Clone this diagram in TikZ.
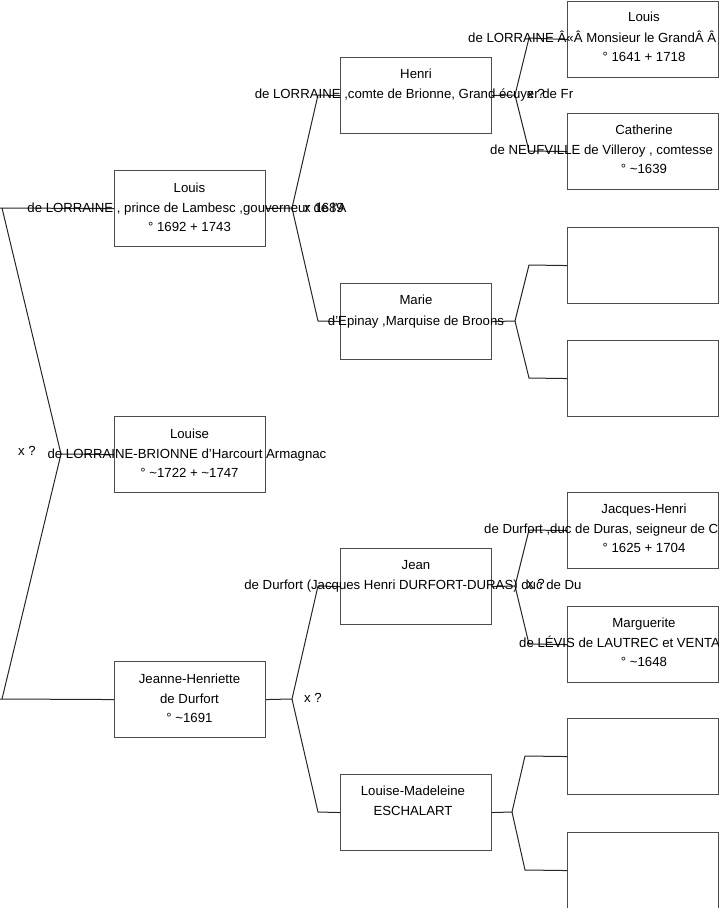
\documentclass[tikz,border=0pt]{standalone}
\usepackage{fontspec}
\setmainfont{Liberation Sans}
\newcommand{\tl}{\textasciitilde}
\begin{document}
\begin{tikzpicture}[x=1pt,y=-1pt,
  pbox/.style={draw=black!70,line width=1.1pt,minimum width=151pt,minimum height=76pt,inner sep=0pt,anchor=north west},
  ln/.style={font=\fontsize{13.2pt}{20pt}\selectfont,inner sep=0pt,anchor=base},
  lw/.style={font=\fontsize{13.2pt}{20pt}\selectfont,inner sep=0pt,anchor=base west},
  conn/.style={draw=black!85,line width=1pt}]
\useasboundingbox (0,0) rectangle (719,908);
% boxes
\node[pbox] (g1a) at (114,170) {};
\node[pbox] (g1b) at (114,416) {};
\node[pbox] (g1c) at (114,661) {};
\node[pbox] (g2a) at (340,57) {};
\node[pbox] (g2b) at (340,283) {};
\node[pbox] (g2c) at (340,548) {};
\node[pbox] (g2d) at (340,774) {};
\node[pbox] (g3a) at (567,1) {};
\node[pbox] (g3b) at (567,113) {};
\node[pbox] (g3c) at (567,227) {};
\node[pbox] (g3d) at (567,340) {};
\node[pbox] (g3e) at (567,492) {};
\node[pbox] (g3f) at (567,606) {};
\node[pbox] (g3g) at (567,718) {};
\node[pbox] (g3h) at (567,832) {};
% connectors
\coordinate (lv) at (61,454);
\coordinate (lu) at (2,208);
\coordinate (ld) at (2,699);
\coordinate (lu0) at (0,208);
\coordinate (ld0) at (0,699);
\draw[conn] (g1b.west) -- (lv) -- (lu);
\draw[conn] (lv) -- (ld);
\draw[conn] (lu0) -- (g1a.west);
\draw[conn] (ld0) -- (g1c.west);
\coordinate (v1) at (292,208);
\coordinate (v1u) at (318,95);
\coordinate (v1d) at (318,321);
\draw[conn] (g1a.east) -- (v1) -- (v1u) -- (g2a.west);
\draw[conn] (v1) -- (v1d) -- (g2b.west);
\coordinate (v2) at (292,699);
\coordinate (v2u) at (318,586);
\coordinate (v2d) at (318,812);
\draw[conn] (g1c.east) -- (v2) -- (v2u) -- (g2c.west);
\draw[conn] (v2) -- (v2d) -- (g2d.west);
\coordinate (v3) at (515,95);
\coordinate (v3u) at (529,38);
\coordinate (v3d) at (529,151);
\draw[conn] (g2a.east) -- (v3) -- (v3u) -- (g3a.west);
\draw[conn] (v3) -- (v3d) -- (g3b.west);
\coordinate (v4) at (515,321);
\coordinate (v4u) at (529,265);
\coordinate (v4d) at (529,378);
\draw[conn] (g2b.east) -- (v4) -- (v4u) -- (g3c.west);
\draw[conn] (v4) -- (v4d) -- (g3d.west);
\coordinate (v5) at (515,586);
\coordinate (v5u) at (529,530);
\coordinate (v5d) at (529,644);
\draw[conn] (g2c.east) -- (v5) -- (v5u) -- (g3e.west);
\draw[conn] (v5) -- (v5d) -- (g3f.west);
\coordinate (v6) at (512,812);
\coordinate (v6u) at (525,756);
\coordinate (v6d) at (525,870);
\draw[conn] (g2d.east) -- (v6) -- (v6u) -- (g3g.west);
\draw[conn] (v6) -- (v6d) -- (g3h.west);
% marriage labels
\node[lw] (m0) at (18,455) {x ?};
\node[lw] (m1) at (304,212) {x 1689};
\node[lw] (m2) at (304,702) {x ?};
\node[lw] (m3) at (527,98) {x ?};
\node[lw] (m4) at (527,588) {x ?};
% texts gen1
\node[ln] (t1a1) at (189.5,192) {Louis};
\node[ln] (t1a2) at (187,212) {de LORRAINE , prince de Lambesc ,gouverneur de l'A};
\node[ln] (t1a3) at (189.5,231) {° 1692 + 1743};
\node[ln] (t1b1) at (189.5,438) {Louise};
\node[ln] (t1b2) at (187,458) {de LORRAINE-BRIONNE d'Harcourt Armagnac};
\node[ln] (t1b3) at (189.5,477) {° \tl1722 + \tl1747};
\node[ln] (t1c1) at (189.5,683) {Jeanne-Henriette};
\node[ln] (t1c2) at (189.5,703) {de Durfort};
\node[ln] (t1c3) at (189.5,722) {° \tl1691};
% texts gen2
\node[ln] (t2a1) at (416,78) {Henri};
\node[ln] (t2a2) at (414,98) {de LORRAINE ,comte de Brionne, Grand écuyer de Fr};
\node[ln] (t2b1) at (416,304) {Marie};
\node[ln] (t2b2) at (416,325) {d'Epinay ,Marquise de Broons};
\node[ln] (t2c1) at (416,569) {Jean};
\node[ln] (t2c2) at (413,589) {de Durfort (Jacques Henri DURFORT-DURAS) duc de Du};
\node[ln] (t2d1) at (413,795) {Louise-Madeleine};
\node[ln] (t2d2) at (413,815) {ESCHALART};
% texts gen3
\node[ln] (t3a1) at (644,21) {Louis};
\node[lw] (t3a2) at (468,42) {de LORRAINE Â«Â Monsieur le GrandÂ Â};
\node[ln] (t3a3) at (644,61) {° 1641 + 1718};
\node[ln] (t3b1) at (644,134) {Catherine};
\node[lw] (t3b2) at (490,154) {de NEUFVILLE de Villeroy , comtesse};
\node[ln] (t3b3) at (644,173) {° \tl1639};
\node[ln] (t3e1) at (644,513) {Jacques-Henri};
\node[lw] (t3e2) at (484,533) {de Durfort ,duc de Duras, seigneur de C};
\node[ln] (t3e3) at (644,552) {° 1625 + 1704};
\node[ln] (t3f1) at (644,627) {Marguerite};
\node[lw] (t3f2) at (519,647) {de LÉVIS de LAUTREC et VENTA};
\node[ln] (t3f3) at (644,666) {° \tl1648};
\end{tikzpicture}
\end{document}
